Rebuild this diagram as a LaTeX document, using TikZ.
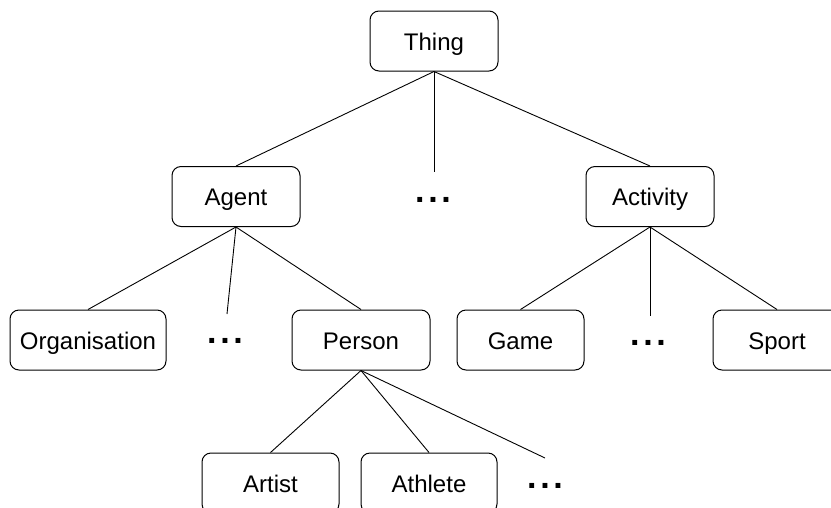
\documentclass[tikz,border=0pt]{standalone}
\usepackage{fontspec}
\setmainfont{Liberation Sans}
\begin{document}
\begin{tikzpicture}[x=1pt,y=-1pt,
  box/.style={draw, rounded corners=9pt, line width=1pt, minimum height=60pt,
    inner sep=0pt, text height=18pt, text depth=0pt,
    font=\fontsize{24}{28}\selectfont},
  more/.style={anchor=base, inner sep=0pt, font=\fontsize{34}{34}\selectfont\bfseries},
  link/.style={line width=0.9pt}]
\useasboundingbox (0,0) rectangle (831,507);
\clip (0,0) rectangle (831,507);

% class boxes
\node[box, minimum width=128pt] (thing)    at (434,41)    {Thing};
\node[box, minimum width=128pt] (agent)    at (236,196.5) {Agent};
\node[box, minimum width=128pt] (activity) at (650,196.5) {Activity};
\node[box, minimum width=156pt] (org)      at (88,340)    {Organisation};
\node[box, minimum width=138pt] (person)   at (361,340)   {Person};
\node[box, minimum width=127pt] (game)     at (520.5,340) {Game};
\node[box, minimum width=128pt] (sport)    at (777,340)   {Sport};
\node[box, minimum width=137pt] (artist)   at (270.5,483) {Artist};
\node[box, minimum width=136pt] (athlete)  at (429,483)   {Athlete};

% ellipses for omitted subclasses
\node[more] (m1) at (433,202.5) {.\hspace{3.6pt}.\hspace{3.6pt}.};
\node[more] (m2) at (225,343.5) {.\hspace{3.6pt}.\hspace{3.6pt}.};
\node[more] (m3) at (648,345.5) {.\hspace{3.6pt}.\hspace{3.6pt}.};
\node[more] (m4) at (545,488.5) {.\hspace{3.6pt}.\hspace{3.6pt}.};

% free ends of the links towards the ellipses
\coordinate (e1) at (434,172);
\coordinate (e2) at (227,314);
\coordinate (e3) at (650,316);
\coordinate (e4) at (545,458);

% links
\draw[link] (thing.south) -- (agent.north);
\draw[link] (thing.south) -- (e1);
\draw[link] (thing.south) -- (activity.north);
\draw[link] (agent.south) -- (org.north);
\draw[link] (agent.south) -- (e2);
\draw[link] (agent.south) -- (person.north);
\draw[link] (activity.south) -- (game.north);
\draw[link] (activity.south) -- (e3);
\draw[link] (activity.south) -- (sport.north);
\draw[link] (person.south) -- (artist.north);
\draw[link] (person.south) -- (athlete.north);
\draw[link] (person.south) -- (e4);
\end{tikzpicture}
\end{document}
